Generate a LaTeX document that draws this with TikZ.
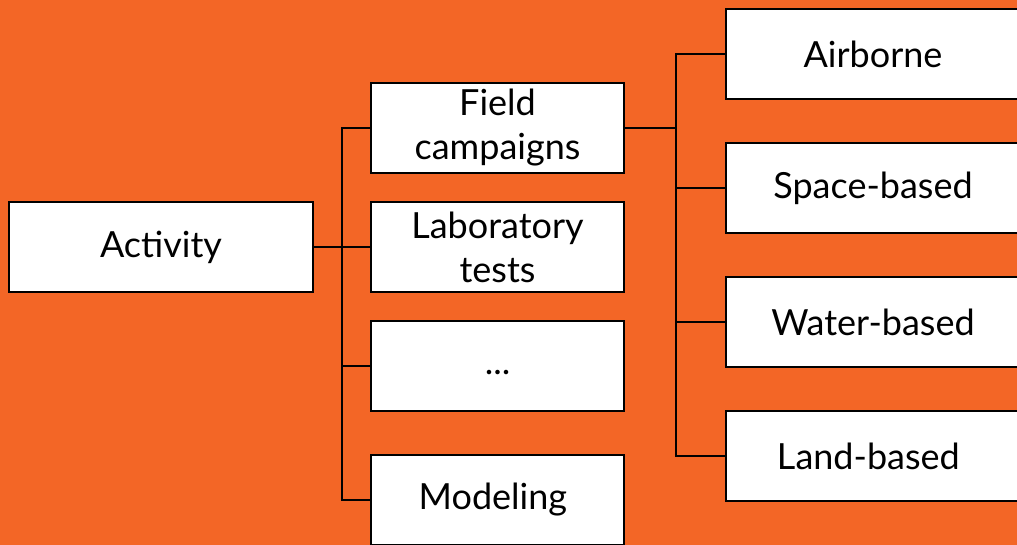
\documentclass[tikz,border=0pt]{standalone}
\usepackage{fontspec}
\setmainfont{Lato}
\definecolor{bgorange}{HTML}{F36626}
\tikzset{
  box/.style={draw=black, line width=1.3pt, fill=white, rectangle, align=center,
    minimum height=90pt, inner sep=0pt, font=\fontsize{36}{44}\selectfont},
  link/.style={draw=black, line width=1.3pt}
}
\begin{document}
\begin{tikzpicture}[x=1pt,y=-1pt]
        \fill[bgorange] (0,0) rectangle (1017,545);
        \useasboundingbox (0,0) rectangle (1017,545);
        \clip (0,0) rectangle (1017,545);

        % Activity
        \node[box, minimum width=304pt] (act) at (161,247) {Activity};

        % Middle column
        \foreach \name/\y/\val in {
            fc/128/{Field\\campaigns},
            lab/247/{Laboratory\\tests},
            dots/366/{\strut...},
            mod/500/{Modeling}
            } {
            \node[box, minimum width=253pt] (\name) at (497.5,\y) {\val};
        }

        % Right column
        \foreach \name/\y/\val in {
            air/54/Airborne,
            space/188/Space-based,
            water/322/Water-based,
            land/456/Land-based
            } {
            \node[box, minimum width=294pt] (\name) at (873,\y) {\val};
        }

        % Connectors
        \coordinate (t1) at (342,247);
        \coordinate (t2) at (676,128);
        \draw[link] (act.east) -- (t1);
        \foreach \name in {fc,lab,dots,mod} {
            \draw[link] (t1) |- (\name.west);
        }
        \draw[link] (fc.east) -- (t2);
        \foreach \name in {air,space,water,land} {
            \draw[link] (t2) |- (\name.west);
        }
    \end{tikzpicture}
\end{document}
